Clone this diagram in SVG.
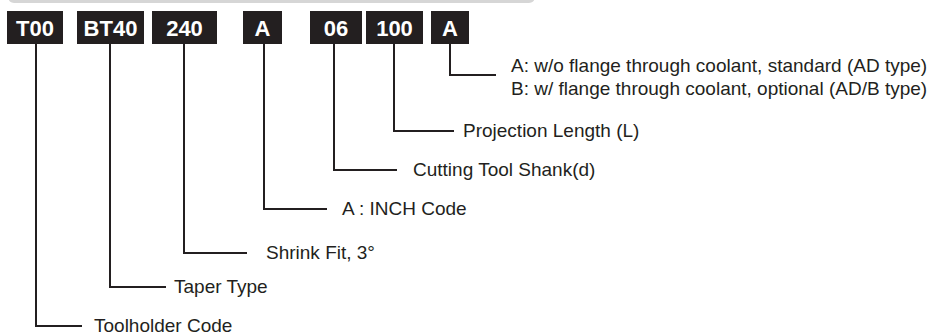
<svg xmlns="http://www.w3.org/2000/svg" width="928" height="336" viewBox="0 0 928 336">
<style>
.box{fill:#231f20}
.code{font-family:"Liberation Sans",Arial,sans-serif;font-weight:bold;font-size:22px;fill:#ffffff;text-anchor:middle}
.lbl{font-family:"Liberation Sans",Arial,sans-serif;font-size:19px;fill:#231f20}
.conn path{fill:none;stroke:#231f20;stroke-width:2}
</style>
<rect x="8" y="-12" width="527" height="15" rx="6" fill="#d6d6d6"/>
<g id="conn" class="conn">
<path d="M36,44 V326 H82"/>
<path d="M110,44 V287 H166"/>
<path d="M184,44 V253 H247"/>
<path d="M264,44 V209 H327"/>
<path d="M334,44 V170 H397"/>
<path d="M394,44 V131 H454"/>
<path d="M450,44 V75 H496"/>
</g>
<g id="n-t00"><rect class="box" x="7" y="11" width="56" height="33"/><text class="code" x="35" y="36">T00</text></g>
<g id="n-bt40"><rect class="box" x="77" y="11" width="67" height="33"/><text class="code" x="110.5" y="36">BT40</text></g>
<g id="n-240"><rect class="box" x="152" y="11" width="65" height="33"/><text class="code" x="184.5" y="36">240</text></g>
<g id="n-a1"><rect class="box" x="243" y="11" width="39" height="33"/><text class="code" x="262.5" y="36">A</text></g>
<g id="n-06"><rect class="box" x="310" y="11" width="52" height="33"/><text class="code" x="336" y="36">06</text></g>
<g id="n-100"><rect class="box" x="366" y="11" width="57" height="33"/><text class="code" x="394.5" y="36">100</text></g>
<g id="n-a2"><rect class="box" x="431" y="11" width="38" height="33"/><text class="code" x="450" y="36">A</text></g>
<g id="labels">
<text class="lbl" x="94" y="332">Toolholder Code</text>
<text class="lbl" x="174" y="293">Taper Type</text>
<text class="lbl" x="266" y="259">Shrink Fit, 3°</text>
<text class="lbl" x="342" y="215">A : INCH Code</text>
<text class="lbl" x="413" y="176">Cutting Tool Shank(d)</text>
<text class="lbl" x="463" y="137">Projection Length (L)</text>
<text class="lbl" x="511" y="72">A: w/o flange through coolant, standard (AD type)</text>
<text class="lbl" x="511" y="95">B: w/ flange through coolant, optional (AD/B type)</text>
</g>
</svg>
